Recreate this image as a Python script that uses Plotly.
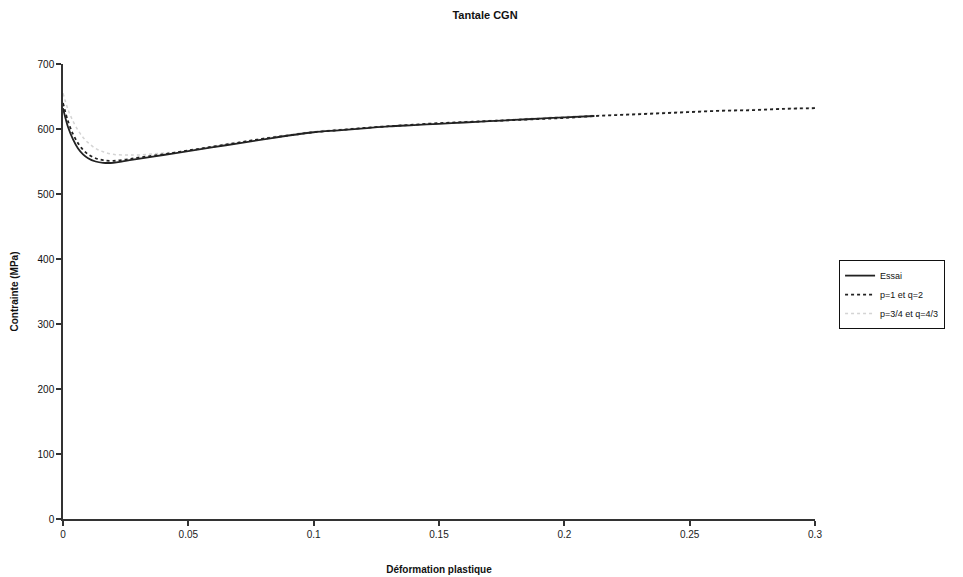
import plotly.graph_objects as go

# Essai (experimental)
x_essai = [0, 0.002, 0.004, 0.006, 0.008, 0.010, 0.013, 0.016, 0.020, 0.025, 0.030, 0.040, 0.050,
           0.060, 0.070, 0.080, 0.090, 0.100, 0.110, 0.120, 0.130, 0.140, 0.150, 0.160, 0.170,
           0.180, 0.190, 0.200, 0.212]
y_essai = [632, 603, 584, 570, 561, 555, 550, 548, 548, 551, 554, 560, 566,
           572, 578, 584, 590, 595, 598, 601, 604, 606, 608, 610, 612,
           614, 616, 618, 620]

# Model p=1 et q=2
x_m1 = [0, 0.002, 0.004, 0.006, 0.008, 0.010, 0.013, 0.016, 0.020, 0.025, 0.030, 0.040, 0.050,
        0.060, 0.070, 0.080, 0.090, 0.100, 0.1125, 0.125, 0.1375, 0.150, 0.1625, 0.175, 0.1875,
        0.200, 0.2125, 0.225, 0.2375, 0.250, 0.2625, 0.275, 0.2875, 0.300]
y_m1 = [640, 612, 592, 578, 568, 561, 555, 552, 551, 553, 556, 561, 567,
        573, 579, 585, 590, 595, 599, 603, 606, 609, 611, 613, 615,
        617, 620, 622, 624, 626, 628, 629, 631, 632]

# Model p=3/4 et q=4/3
x_m2 = [0, 0.002, 0.004, 0.006, 0.008, 0.010, 0.013, 0.016, 0.020, 0.025, 0.030, 0.040, 0.050,
        0.070, 0.100, 0.125, 0.150, 0.175, 0.200, 0.225, 0.250, 0.275, 0.300]
y_m2 = [655, 630, 612, 598, 587, 579, 570, 565, 561, 560, 560, 563, 567,
        580, 596, 603, 609, 614, 619, 623, 627, 630, 633]

x_ticks = [0, 0.05, 0.1, 0.15, 0.2, 0.25, 0.3]
x_tick_labels = ["0", "0.05", "0.1", "0.15", "0.2", "0.25", "0.3"]
y_ticks = [0, 100, 200, 300, 400, 500, 600, 700]

fig = go.Figure()
fig.add_trace(go.Scatter(x=x_m2, y=y_m2, mode="lines", name="p=3/4 et q=4/3",
                         line=dict(color="#d4d4d4", width=1.5, dash="dot", shape="spline")))
fig.add_trace(go.Scatter(x=x_m1, y=y_m1, mode="lines", name="p=1 et q=2",
                         line=dict(color="#222222", width=1.8, dash="dot", shape="spline")))
fig.add_trace(go.Scatter(x=x_essai, y=y_essai, mode="lines", name="Essai",
                         line=dict(color="#222222", width=1.8, shape="spline")))

font_family = "Liberation Sans Narrow, Arial, Liberation Sans, sans-serif"

fig.update_layout(
    width=963, height=577,
    paper_bgcolor="white", plot_bgcolor="white",
    margin=dict(l=55, r=156, t=56, b=66, autoexpand=False),
    title=dict(text="<b>Tantale CGN</b>", x=(485 - 8) / 963, xanchor="center", y=1 - 7 / 577,
               yanchor="middle", font=dict(family=font_family, size=11, color="#111")),
    font=dict(family=font_family, color="#111"),
    showlegend=True,
    legend=dict(x=1.032, y=0.569, xanchor="left", yanchor="top",
                traceorder="reversed",
                bordercolor="#111", borderwidth=1, bgcolor="white",
                font=dict(family=font_family, size=9, color="#111"),
                itemwidth=30, tracegroupgap=0),
)
fig.update_xaxes(
    range=[0, 0.3], tickvals=x_ticks, ticktext=x_tick_labels, automargin=False,
    showgrid=False, zeroline=False, showline=True, linecolor="#333", linewidth=1.5,
    ticks="outside", ticklen=5, tickcolor="#333", tickwidth=1.5,
    tickfont=dict(size=10, color="#222"),
    title=dict(text="<b>Déformation plastique</b>", font=dict(size=10, color="#111"), standoff=27),
)
fig.update_yaxes(
    range=[0, 700], tickvals=y_ticks, automargin=False,
    showgrid=False, zeroline=False, showline=True, linecolor="#333", linewidth=1.5,
    ticks="outside", ticklen=5, tickcolor="#333", tickwidth=1.5,
    tickfont=dict(size=10, color="#111"),
    title=dict(text="<b>Contrainte (MPa)</b>", font=dict(size=10, color="#111"), standoff=17),
)

fig.write_html("out.html")
